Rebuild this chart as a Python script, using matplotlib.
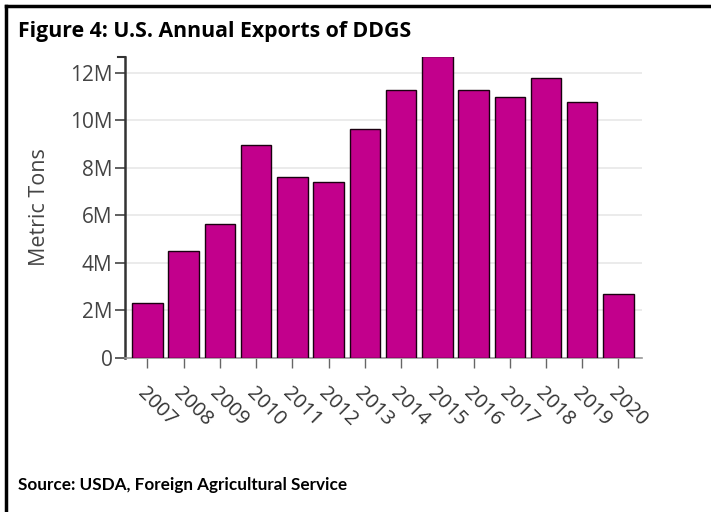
import matplotlib
matplotlib.use("Agg")
import matplotlib.pyplot as plt
from matplotlib.ticker import FuncFormatter, FixedLocator
from matplotlib.lines import Line2D

years = ["2007", "2008", "2009", "2010", "2011", "2012", "2013",
         "2014", "2015", "2016", "2017", "2018", "2019", "2020"]
exports_m = [2.32, 4.49, 5.62, 8.97, 7.63, 7.38, 9.63,
             11.27, 12.68, 11.27, 10.99, 11.78, 10.75, 2.70]
y_ticks = [0, 2, 4, 6, 8, 10, 12]
title = "Figure 4: U.S. Annual Exports of DDGS"
source = "Source: USDA, Foreign Agricultural Service"
ylabel = "Metric Tons"

fig = plt.figure(figsize=(7.11, 5.12), dpi=100)
ax = fig.add_axes([125/711, 1-358/512, (642-125)/711, (358-56.7)/512])

x = list(range(len(years)))
ax.bar(x, exports_m, width=0.84, color="#C2008C", edgecolor="#1a0010", linewidth=1.0, zorder=3)

ax.set_xlim(-0.62, 13.65)
ax.set_ylim(0, 12.67)
ax.yaxis.set_major_locator(FixedLocator(y_ticks))
ax.yaxis.set_major_formatter(FuncFormatter(lambda v, p: "0" if v == 0 else f"{int(v)}M"))
ax.set_xticks(x)
ax.set_xticklabels(years, rotation=-45, ha="left", va="top", rotation_mode="anchor",
                   fontsize=14.5, color="#333333", family="Open Sans")
for lbl in ax.get_yticklabels():
    lbl.set_family("Open Sans")
ax.tick_params(axis="y", labelsize=15, labelcolor="#444444", color="#444444",
               length=7, width=1.2, pad=2)
ax.tick_params(axis="x", color="#666666", length=7, width=1.0, pad=11)

ax.grid(axis="y", color="#e8e8e8", linewidth=1.2, zorder=0)
for s in ["top", "right"]:
    ax.spines[s].set_visible(False)
ax.spines["left"].set_color("#333333")
ax.spines["left"].set_linewidth(1.8)
ax.spines["bottom"].set_color("#999999")
ax.spines["bottom"].set_linewidth(1.2)

ax.set_ylabel(ylabel, fontsize=15.5, color="#444444", family="Open Sans")
ax.yaxis.set_label_coords(-0.145, 0.5)

# outer tick at top of y axis
ax.plot([-0.62 - 0.2, -0.62], [12.67, 12.67], color="#333333", lw=1.5, clip_on=False,
        transform=ax.transData)

fig.text(18/711, 1-32/512, title, fontsize=15.3, fontweight="bold", family="Open Sans",
         va="center", ha="left", color="#000000")
fig.text(18/711, 1-485/512, source, fontsize=12.3, fontweight="bold", family="Lato",
         va="center", ha="left", color="#000000")

# frame lines (top and left)
fig.add_artist(Line2D([6/711, 1], [1-6/512, 1-6/512], color="black", lw=2.5, transform=fig.transFigure))
fig.add_artist(Line2D([6/711, 6/711], [0, 1-6/512], color="black", lw=2.5, transform=fig.transFigure))

fig.savefig("out.png", dpi=100)
